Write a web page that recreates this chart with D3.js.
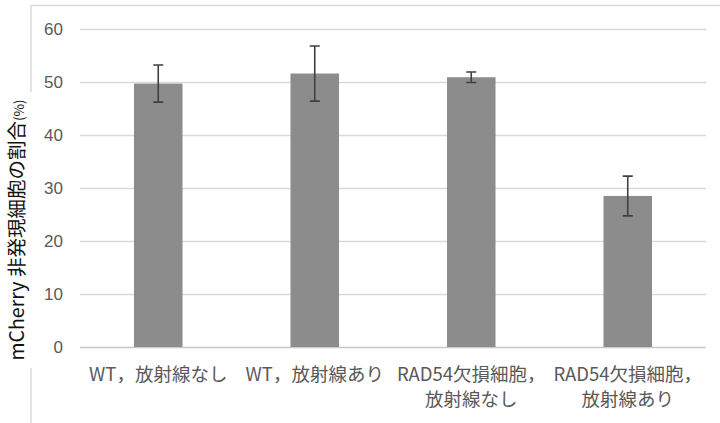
<!DOCTYPE html>
<html>
<head>
<meta charset="utf-8">
<script src="https://cdn.jsdelivr.net/npm/d3@7"></script>
<style>
  html, body { margin: 0; padding: 0; background: #fff; }
  svg { display: block; }
</style>
</head>
<body>
<svg id="chart" width="720" height="423"></svg>
<script>
// Groups shown along the x axis (each label may span two lines)
const categories = ["WT，放射線なし", "WT，放射線あり", "RAD54欠損細胞，放射線なし", "RAD54欠損細胞，放射線あり"];
const categoryLines = [
  ["WT，放射線なし"],
  ["WT，放射線あり"],
  ["RAD54欠損細胞，", "放射線なし"],
  ["RAD54欠損細胞，", "放射線あり"]
];
// Share of mCherry-negative cells (%) and its error (±)
const values = [49.7, 51.6, 50.9, 28.5];
const errors = [3.5, 5.2, 1.0, 3.75];
const yTicks = [0, 10, 20, 30, 40, 50, 60];
const yTitleMain = "mCherry 非発現細胞の割合";
const yTitleUnit = "(%)";

const svg = d3.select("#chart");

const x = d3.scaleBand()
  .domain(categories)
  .range([80, 706])
  .paddingInner(0.69)
  .paddingOuter(0.345);

const y = d3.scaleLinear()
  .domain([0, 60])
  .range([347, 29]);

// Chart frame (top and left edges)
svg.append("path")
  .attr("d", "M31,423 L31,5.5 L720,5.5")
  .attr("fill", "none")
  .attr("stroke", "#d9d9d9")
  .attr("stroke-width", 1.5);

// Horizontal gridlines
const yAxis = d3.axisLeft(y)
  .tickValues(yTicks)
  .tickSize(-(706 - 80))
  .tickPadding(17)
  .tickFormat(d3.format("d"));

const gy = svg.append("g")
  .attr("transform", "translate(80,0)")
  .call(yAxis);
gy.select(".domain").remove();
gy.selectAll(".tick line")
  .attr("stroke", d => d === 0 ? "#c8c8c8" : "#d9d9d9")
  .attr("stroke-width", 1.6);
gy.selectAll(".tick text")
  .attr("fill", "#595959")
  .attr("font-family", "'Liberation Sans', Arial, sans-serif")
  .attr("font-size", 17);

// Bars
svg.append("g")
  .selectAll("rect")
  .data(values)
  .join("rect")
  .attr("x", (d, i) => x(categories[i]))
  .attr("y", d => y(d))
  .attr("width", x.bandwidth())
  .attr("height", d => y(0) - y(d))
  .attr("fill", "#8c8c8c");

// Error bars
const eb = svg.append("g")
  .attr("stroke", "#404040")
  .attr("stroke-width", 1.6)
  .attr("fill", "none");
values.forEach((v, i) => {
  const cx = x(categories[i]) + x.bandwidth() / 2;
  const top = y(v + errors[i]);
  const bot = y(v - errors[i]);
  eb.append("path")
    .attr("d", `M${cx},${top} L${cx},${bot} M${cx - 5},${top} L${cx + 5},${top} M${cx - 5},${bot} L${cx + 5},${bot}`);
});

// Category labels
const xl = svg.append("g")
  .attr("font-family", "'Noto Sans CJK JP', sans-serif")
  .attr("font-size", 18.5)
  .attr("fill", "#595959")
  .attr("text-anchor", "middle");
categoryLines.forEach((lines, i) => {
  const cx = x(categories[i]) + x.bandwidth() / 2;
  lines.forEach((t, j) => {
    xl.append("text")
      .attr("x", cx)
      .attr("y", 381 + j * 25)
      .text(t);
  });
});

// Y axis title, on a white patch over the frame edge
const titleCx = 17, titleCy = 230;
svg.append("rect")
  .attr("x", 4)
  .attr("y", 92)
  .attr("width", 30)
  .attr("height", 276)
  .attr("fill", "#fff");
const title = svg.append("text")
  .attr("transform", `translate(${titleCx},${titleCy}) rotate(-90)`)
  .attr("text-anchor", "middle")
  .attr("dy", "0.35em")
  .attr("font-family", "'Noto Sans CJK JP', sans-serif")
  .attr("font-size", 19.5)
  .attr("fill", "#111");
title.append("tspan").text(yTitleMain);
title.append("tspan").attr("font-size", 13.5).text(yTitleUnit);
</script>
</body>
</html>
